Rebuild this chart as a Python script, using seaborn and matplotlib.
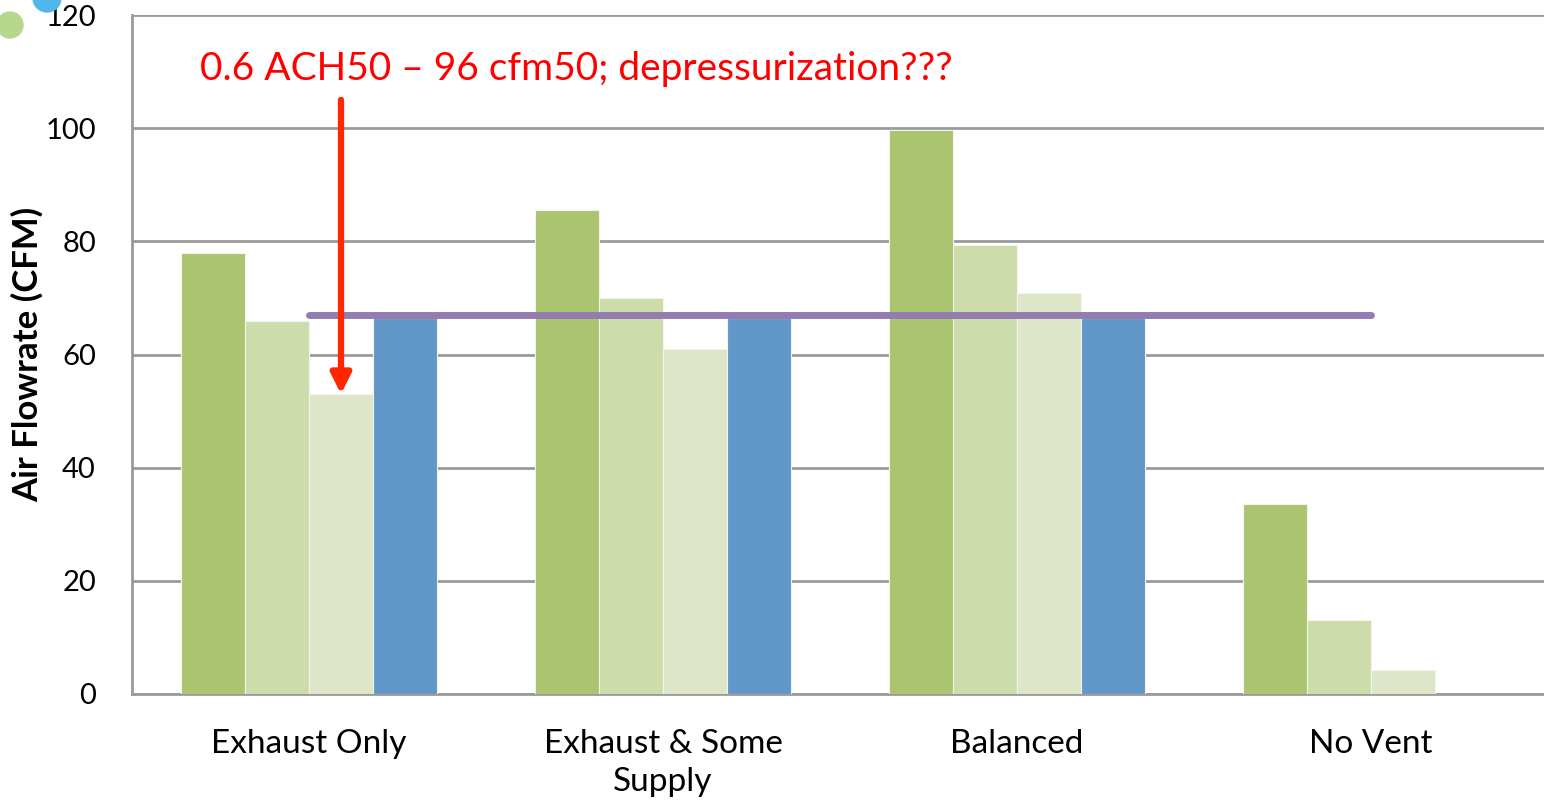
import numpy as np
import pandas as pd
import matplotlib
matplotlib.use("Agg")
import matplotlib.pyplot as plt
from matplotlib.patches import Circle
import seaborn as sns

# Ventilation strategies and measured / required airflows (CFM)
categories = ["Exhaust Only", "Exhaust & Some\nSupply", "Balanced", "No Vent"]
series_names = ["Measured A", "Measured B", "Measured C", "Required"]
measured_a = [78, 85.5, 99.6, 33.5]
measured_b = [66, 70, 79.3, 13]
measured_c = [53, 61, 70.8, 4.3]
required = [66.5, 66.5, 66.5, 0]
target_line = [67, 67, 67, 67]
y_ticks = [0, 20, 40, 60, 80, 100, 120]
note_text = "0.6 ACH50 \u2013 96 cfm50; depressurization???"

palette = ["#ABC46F", "#CDDCAB", "#DEE6CA", "#6297C9"]

df = pd.DataFrame({
    "category": np.repeat(categories, len(series_names)),
    "series": series_names * len(categories),
    "cfm": np.column_stack([measured_a, measured_b, measured_c, required]).ravel(),
})

sns.set_theme(style="white")
plt.rcParams["font.family"] = ["Lato", "DejaVu Sans"]

fig = plt.figure(figsize=(15.44, 8.08), dpi=100)
ax = fig.add_axes([132 / 1544, 114 / 808, 1416 / 1544, 679 / 808])

sns.barplot(data=df, x="category", y="cfm", hue="series", order=categories,
            hue_order=series_names, palette=palette, saturation=1, width=0.723,
            gap=0, edgecolor="#F2F5EA", linewidth=0.8, legend=False, ax=ax, zorder=3)

ax.plot(np.arange(len(categories)), target_line, color="#947CB0", lw=5,
        solid_capstyle="round", zorder=4)

ax.set_xlim(-0.5, len(categories) - 0.5)
ax.set_ylim(0, 120)
ax.set_yticks(y_ticks)
ax.set_yticklabels([str(t) for t in y_ticks], fontsize=21)
ax.yaxis.grid(True, color="#9A9A9A", lw=2, zorder=0)
ax.set_axisbelow(True)

# Category labels centred, tick marks at group boundaries
ax.set_xticks(np.arange(len(categories)))
ax.set_xticklabels(categories, fontsize=24, linespacing=1.35, va="top")
ax.set_xticks(np.arange(-0.5, len(categories) - 0.4, 1.0), minor=True)
ax.tick_params(axis="x", which="major", length=0, pad=25, colors="black")
ax.tick_params(axis="x", which="minor", length=8, width=2, color="#9A9A9A")
ax.tick_params(axis="y", length=8, width=2, color="#9A9A9A", pad=18, colors="black")
ax.tick_params(axis="y", color="#9A9A9A")

for s in ["top", "right"]:
    ax.spines[s].set_visible(False)
for s in ["left", "bottom"]:
    ax.spines[s].set_color("#9A9A9A")
    ax.spines[s].set_linewidth(2)

ax.set_xlabel("")
ax.set_ylabel("Air Flowrate (CFM)", fontsize=25, fontweight="bold", color="black")
ax.yaxis.set_label_coords(-0.062, 0.5)

# Annotation pointing to the depressurized exhaust-only case
bar_w = 0.723 / len(series_names)
ax.annotate("", xy=(0.5 * bar_w, measured_c[0]), xytext=(0.5 * bar_w, 105),
            arrowprops=dict(arrowstyle="-|>", color="#FF2600", lw=4.5,
                            mutation_scale=30, shrinkA=0, shrinkB=0), zorder=5)
ax.text(-0.308, 110.5, note_text, color="#FF0000", fontsize=28,
        ha="left", va="center", zorder=5)

# Decorative dots in the corner
fig.add_artist(Circle((0.10, 8.08 - 0.25), 0.13, transform=fig.dpi_scale_trans,
                      color="#B5D78E", clip_on=False))
fig.add_artist(Circle((0.47, 8.08 + 0.02), 0.14, transform=fig.dpi_scale_trans,
                      color="#4FB8EA", clip_on=False))

fig.savefig("out.png", dpi=100)
